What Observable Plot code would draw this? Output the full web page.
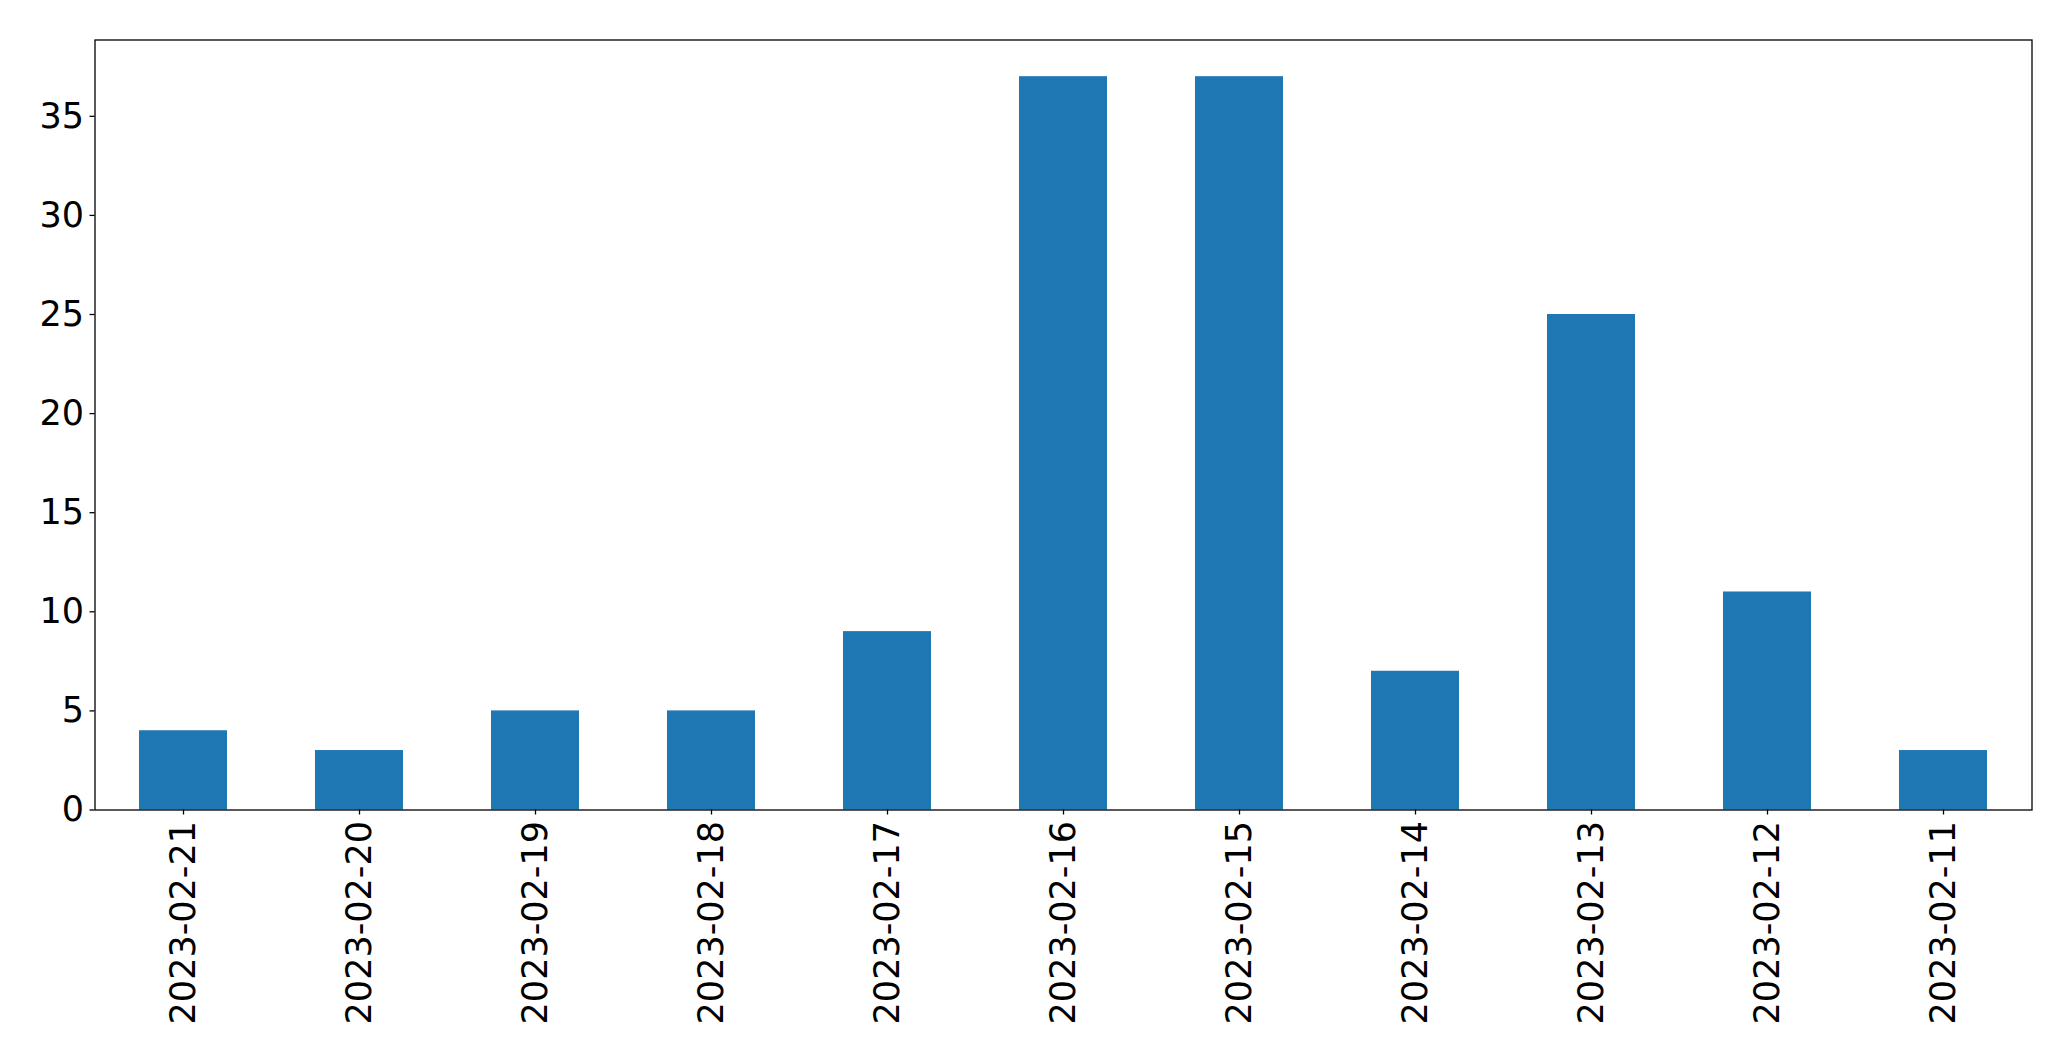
<!DOCTYPE html>
<html>
<head>
<meta charset="utf-8">
<script src="https://cdn.jsdelivr.net/npm/d3@7"></script>
<script src="https://cdn.jsdelivr.net/npm/@observablehq/plot@0.6"></script>
<style>
  html, body { margin: 0; padding: 0; background: #fff; }
  #chart svg { display: block; }
</style>
</head>
<body>
<div id="chart"></div>
<script>
const dates = ["2023-02-21","2023-02-20","2023-02-19","2023-02-18","2023-02-17","2023-02-16","2023-02-15","2023-02-14","2023-02-13","2023-02-12","2023-02-11"];
const counts = [4, 3, 5, 5, 9, 37, 37, 7, 25, 11, 3];
const yTicks = [0, 5, 10, 15, 20, 25, 30, 35];

const data = dates.map((d, i) => ({date: d, count: counts[i]}));

const chart = Plot.plot({
  width: 2071,
  height: 1061,
  marginLeft: 94.5,
  marginRight: 39.5,
  marginTop: 39.5,
  marginBottom: 251.5,
  style: {fontFamily: "DejaVu Sans", fontSize: "35px", background: "#fff", color: "#000"},
  x: {domain: dates, paddingInner: 0.5, paddingOuter: 0.25, label: null},
  y: {domain: [0, 38.85], label: null},
  marks: [
    Plot.barY(data, {x: "date", y: "count", fill: "#1f77b4"}),
    Plot.frame({stroke: "#000", strokeWidth: 1.3}),
    Plot.axisY({ticks: yTicks, tickSize: 5, tickPadding: 6, label: null, stroke: "#000", strokeWidth: 1.3}),
    Plot.axisX({tickSize: 5, tickPadding: 6, tickRotate: -90, label: null, stroke: "#000", strokeWidth: 1.3})
  ]
});
document.getElementById("chart").appendChild(chart);
</script>
</body>
</html>
